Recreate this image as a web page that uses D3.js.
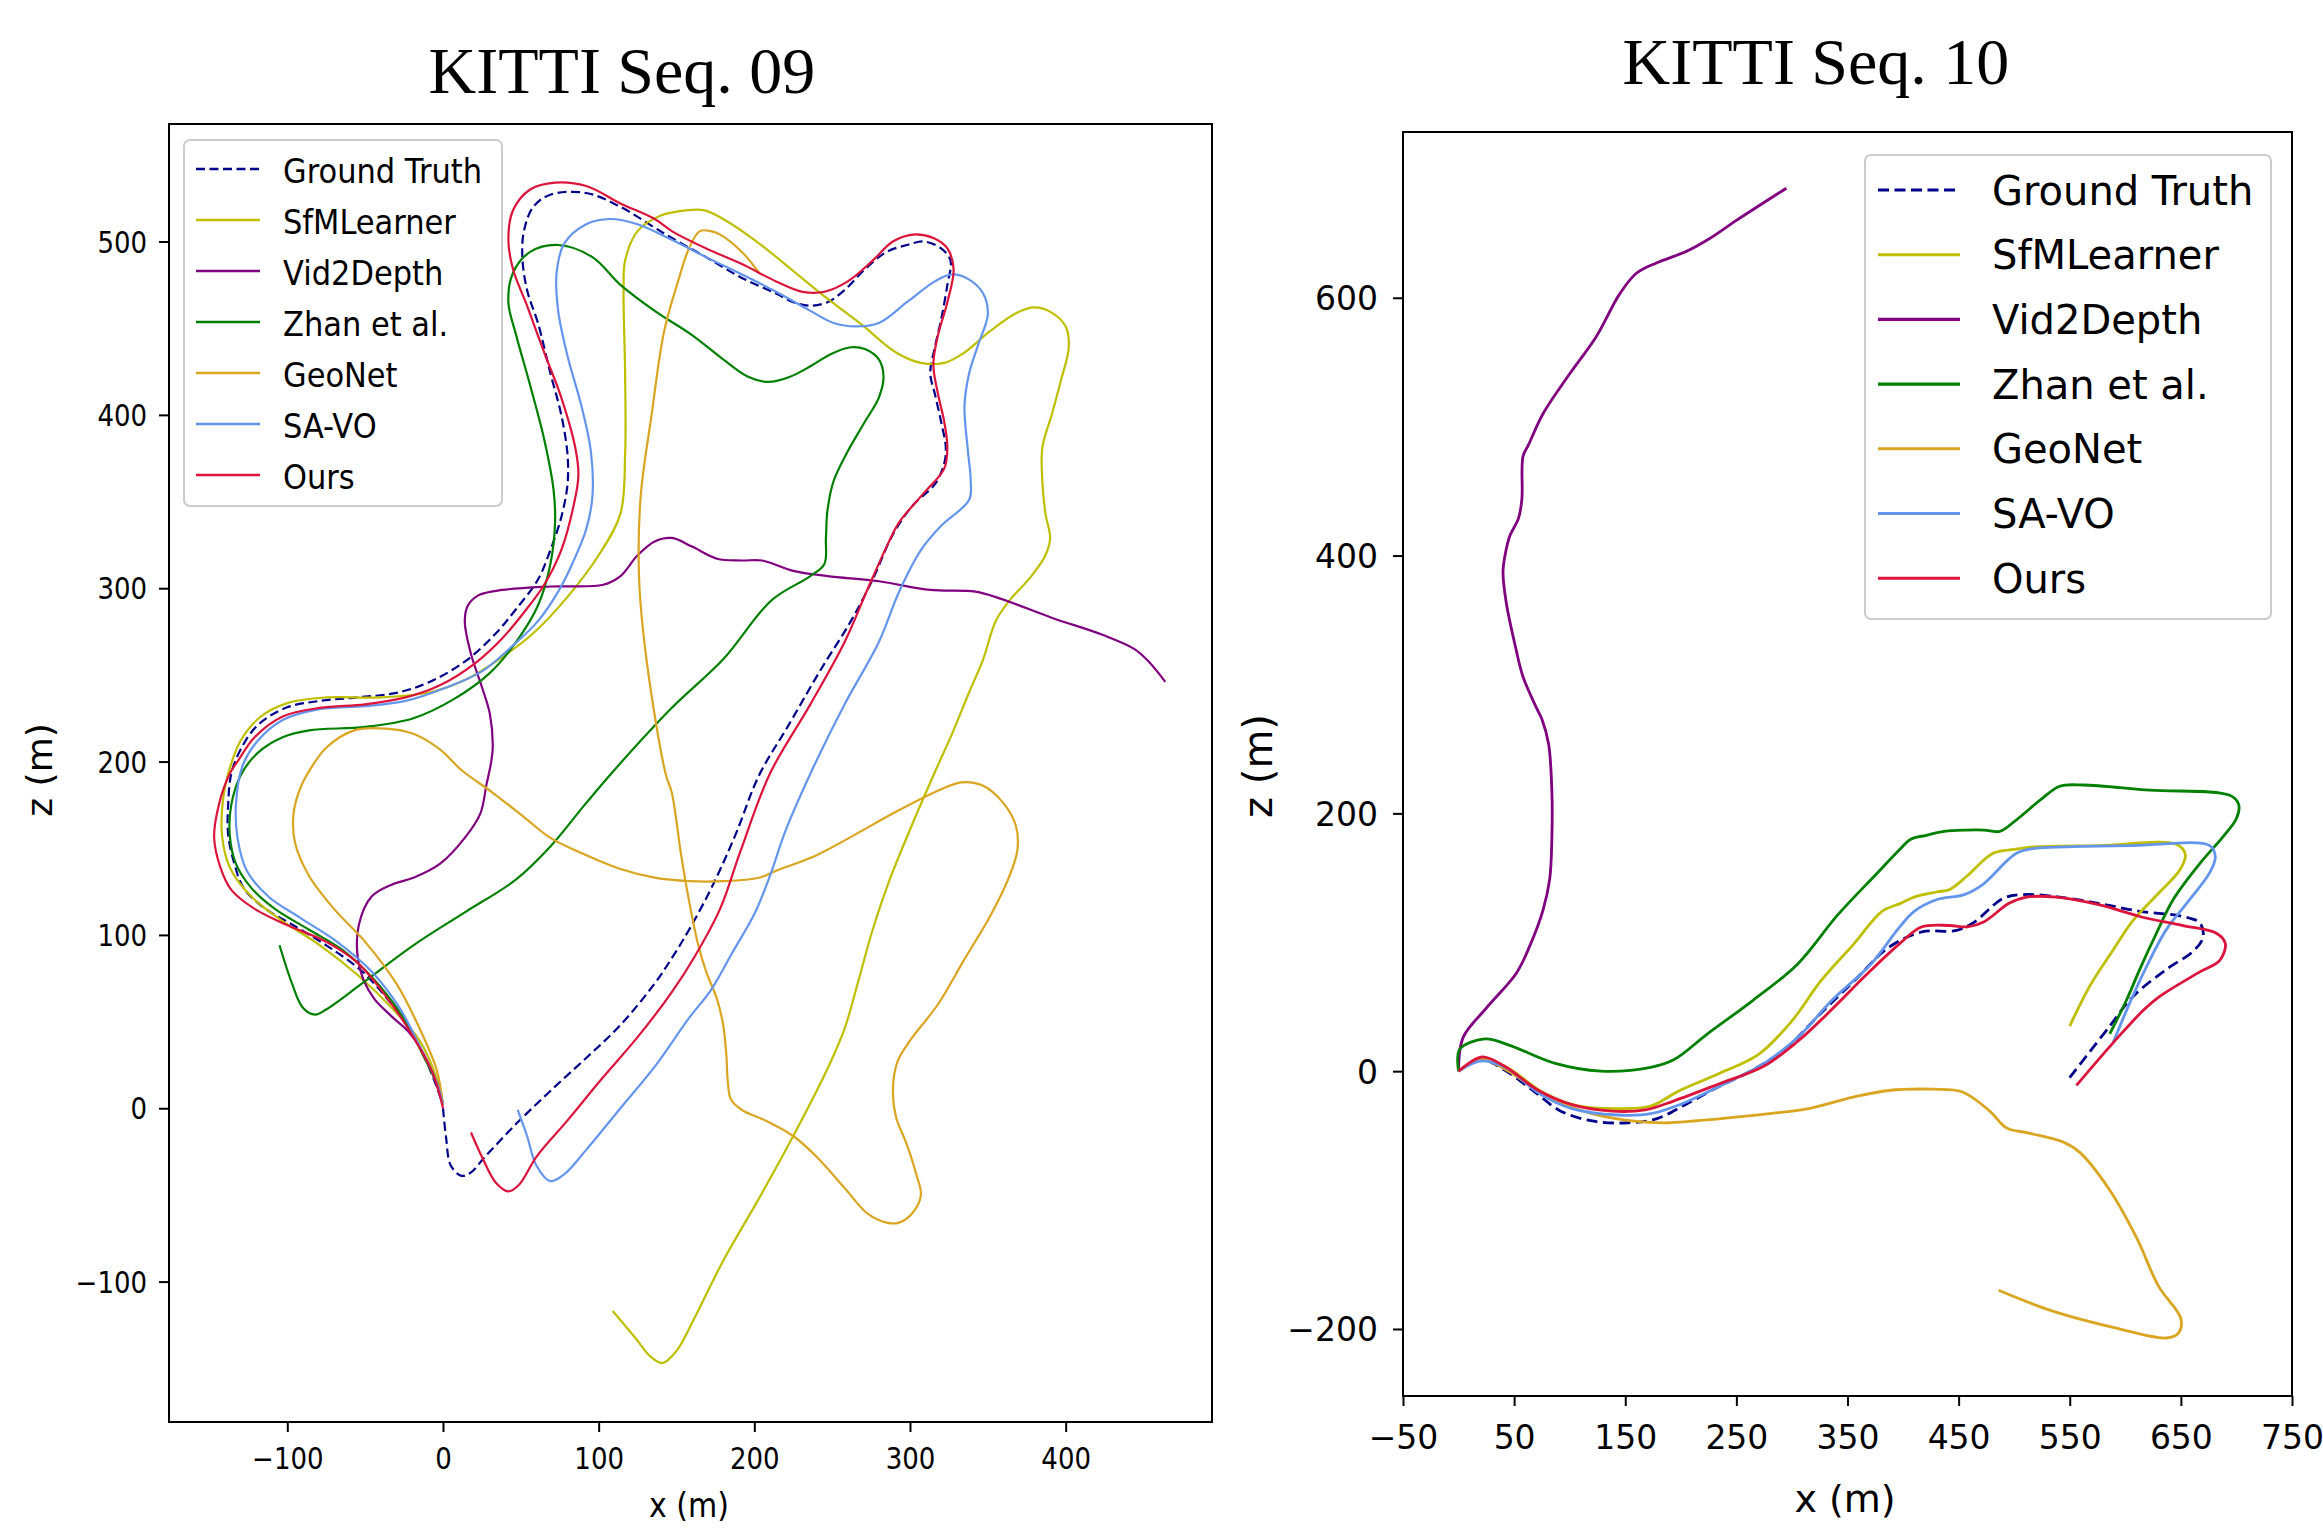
<!DOCTYPE html>
<html>
<head>
<meta charset="utf-8">
<script src="https://cdn.jsdelivr.net/npm/d3@7"></script>
<style>
  body { margin: 0; background: #fff; }
  svg text { font-family: "DejaVu Sans", sans-serif; fill: #000; }
</style>
</head>
<body>
<svg id="fig" width="2323" height="1535"></svg>
<script>
// legend order = drawing order
const methods = ["Ground Truth", "SfMLearner", "Vid2Depth", "Zhan et al.", "GeoNet", "SA-VO", "Ours"];
const colors  = ["#00008b", "#bfbf00", "#800080", "#008000", "#daa520", "#6495ed", "#dc143c"];

// ---- KITTI Seq. 09 trajectories, [x (m), z (m)] ----
const seq09_gt = [[0,0],[2,-17],[5,-33],[12,-39],[18,-37],[27,-28],[47,-9],[69,10],[92,29],[114,48],[136,72],[148,88],[160,106],[174,130],[188,158],[203,192],[222,221],[242,252],[262,281],[276,305],[289,331],[302,348],[316,360],[322,372],[323,381],[320,396],[316,412],[313,424],[316,439],[320,455],[324,475],[326,489],[320,496],[309,500],[298,498],[285,494],[271,484],[258,472],[247,465],[236,463],[225,465],[214,470],[192,479],[169,491],[147,502],[136,508],[114,520],[92,528],[69,527],[58,520],[52,506],[51,491],[54,472],[61,453],[69,424],[76,400],[80,377],[80,360],[76,341],[69,322],[61,305],[47,288],[34,274],[16,259],[-6,247],[-28,240],[-55,237],[-79,235],[-101,231],[-119,221],[-130,207],[-136,193],[-138,175],[-138,158],[-134,141],[-128,127],[-114,115],[-97,106],[-75,94],[-52,79],[-33,60],[-17,39],[-6,17],[0,2]];
const seq09_sfm = [[0,2],[-4,17],[-15,39],[-33,58],[-55,77],[-79,94],[-103,108],[-123,122],[-137,139],[-142,158],[-141,180],[-138,193],[-130,212],[-117,226],[-99,234],[-75,237],[-41,237],[-8,240],[14,247],[36,259],[58,274],[80,295],[100,319],[114,343],[117,377],[117,424],[116,472],[117,489],[125,506],[140,515],[156,518],[168,518],[180,513],[203,499],[225,483],[247,467],[269,452],[291,436],[307,430],[322,430],[335,436],[351,448],[369,459],[380,462],[391,459],[400,451],[402,439],[397,420],[391,400],[385,381],[385,362],[387,343],[390,329],[387,319],[378,307],[364,293],[355,281],[347,259],[338,240],[327,216],[316,194],[302,165],[287,132],[276,103],[267,74],[258,46],[245,19],[225,-16],[203,-52],[180,-88],[161,-122],[150,-140],[141,-147],[133,-143],[124,-133],[109,-117]];
const seq09_vid = [[0,2],[-10,27],[-21,43],[-33,53],[-44,63],[-51,74],[-55,89],[-54,106],[-46,122],[-33,129],[-19,133],[-2,141],[14,156],[24,170],[28,187],[31,200],[32,209],[30,228],[25,243],[18,262],[14,281],[16,290],[23,296],[38,299],[69,301],[103,302],[114,307],[125,319],[136,327],[147,329],[160,324],[176,317],[192,316],[205,316],[225,310],[247,307],[280,304],[313,299],[342,298],[358,294],[391,283],[424,273],[444,265],[453,258],[464,246]];
const seq09_zhan = [[0,2],[-2,10],[-13,31],[-26,53],[-44,74],[-64,91],[-86,103],[-108,115],[-123,127],[-133,141],[-137,158],[-136,175],[-130,192],[-119,205],[-103,214],[-86,218],[-50,220],[-19,225],[7,236],[30,251],[47,269],[61,290],[69,314],[72,338],[71,357],[65,386],[56,417],[47,446],[42,465],[45,482],[56,494],[74,498],[96,491],[114,475],[136,460],[160,446],[180,432],[196,422],[209,419],[223,422],[236,428],[249,435],[262,439],[271,438],[280,432],[283,422],[280,410],[271,396],[260,379],[251,362],[247,345],[246,329],[245,314],[236,307],[211,293],[180,259],[147,231],[109,194],[91,175],[69,151],[47,132],[14,113],[-19,94],[-52,72],[-75,57],[-82,54],[-90,58],[-97,72],[-105,94]];
const seq09_geonet = [[0,2],[-4,22],[-15,46],[-30,72],[-50,96],[-70,115],[-86,134],[-95,153],[-96,170],[-92,184],[-87,193],[-75,208],[-57,218],[-37,219],[-19,216],[-2,207],[12,195],[32,182],[52,168],[69,156],[92,146],[114,138],[136,133],[158,131],[180,131],[203,133],[214,137],[240,146],[265,158],[291,171],[320,184],[333,188],[347,186],[360,176],[368,163],[369,149],[363,132],[351,110],[335,86],[318,60],[300,39],[292,27],[289,10],[291,-5],[298,-21],[304,-38],[307,-50],[302,-60],[293,-66],[285,-66],[273,-61],[258,-46],[240,-28],[225,-16],[207,-7],[192,-1],[185,5],[183,15],[182,31],[180,48],[176,63],[169,79],[164,94],[158,120],[153,146],[147,182],[143,193],[131,257],[126,305],[127,353],[134,400],[142,448],[151,477],[158,496],[165,506],[172,506],[178,504],[192,494],[203,482]];
const seq09_savo = [[0,2],[-4,15],[-15,36],[-28,58],[-46,79],[-68,96],[-92,110],[-112,122],[-126,137],[-132,156],[-133,175],[-129,197],[-119,212],[-103,224],[-81,230],[-50,232],[-24,235],[3,243],[25,252],[45,267],[61,281],[74,298],[83,314],[92,334],[96,353],[95,379],[89,405],[80,434],[74,460],[73,482],[78,499],[92,510],[107,513],[125,510],[147,501],[169,491],[192,481],[214,471],[236,460],[251,453],[265,451],[280,453],[298,465],[316,477],[327,481],[338,478],[347,470],[350,458],[344,441],[338,424],[335,405],[337,381],[339,362],[338,351],[320,336],[307,322],[293,298],[280,269],[258,233],[236,193],[220,160],[210,134],[200,112],[186,90],[172,68],[158,52],[136,24],[114,0],[92,-24],[78,-38],[69,-42],[60,-33],[54,-16],[48,-1]];
const seq09_ours = [[0,0],[-6,19],[-19,41],[-37,65],[-55,84],[-75,96],[-101,106],[-121,115],[-136,126],[-143,139],[-147,156],[-144,175],[-137,193],[-132,200],[-121,214],[-103,226],[-79,231],[-50,233],[-24,237],[-2,244],[21,257],[38,271],[52,286],[65,302],[76,322],[84,348],[87,365],[85,381],[76,410],[65,436],[54,463],[45,484],[42,501],[45,518],[56,530],[72,534],[92,532],[114,522],[136,513],[147,506],[169,496],[192,487],[214,477],[231,471],[245,471],[260,477],[276,489],[289,500],[302,504],[315,502],[324,496],[328,484],[324,465],[318,446],[315,429],[318,412],[322,396],[324,381],[322,369],[309,355],[293,338],[285,324],[273,300],[258,269],[236,233],[210,193],[191,148],[178,115],[162,88],[147,67],[125,41],[102,17],[80,-7],[60,-28],[49,-44],[42,-48],[34,-43],[25,-28],[18,-14]];

// ---- KITTI Seq. 10 trajectories, [x (m), z (m)] ----
const seq10_gt = [[0,0],[21,9],[41,1],[67,-15],[92,-31],[123,-39],[153,-40],[178,-37],[204,-26],[234,-12],[265,1],[295,18],[326,45],[356,70],[387,96],[417,108],[447,109],[463,115],[490,134],[508,137],[541,135],[577,130],[613,124],[652,120],[667,115],[670,104],[661,93],[637,79],[607,58],[586,35],[549,-6]];
const seq10_sfm = [[0,0],[21,10],[45,2],[77,-17],[107,-27],[143,-29],[173,-27],[199,-15],[234,-2],[270,13],[300,39],[326,70],[356,99],[381,124],[397,130],[410,135],[430,139],[442,141],[457,151],[481,169],[500,172],[517,174],[577,175],[646,176],[654,168],[649,156],[631,139],[607,117],[589,94],[568,66],[550,35]];
const seq10_vid = [[0,0],[4,26],[25,49],[52,76],[64,97],[76,125],[82,149],[84,182],[84,216],[81,254],[75,273],[70,282],[58,306],[51,330],[43,363],[40,387],[42,401],[46,415],[54,429],[57,444],[58,477],[63,486],[76,510],[100,541],[124,570],[145,603],[160,619],[178,627],[205,636],[226,646],[250,660],[295,685]];
const seq10_zhan = [[0,0],[1,17],[24,25],[46,20],[87,6],[128,0],[173,3],[194,9],[224,29],[265,55],[305,83],[341,121],[376,153],[397,172],[407,180],[421,183],[437,186],[457,187],[473,187],[487,186],[502,195],[523,210],[541,221],[562,222],[622,218],[694,214],[702,207],[700,196],[688,182],[667,161],[643,133],[628,107],[613,79],[601,55],[586,29]];
const seq10_geonet = [[0,0],[21,9],[45,0],[80,-20],[120,-33],[160,-39],[189,-40],[234,-37],[280,-33],[315,-29],[356,-20],[387,-15],[427,-14],[453,-16],[478,-31],[493,-44],[513,-48],[544,-55],[559,-63],[585,-91],[610,-129],[630,-167],[650,-192],[648,-203],[637,-207],[590,-199],[534,-186],[486,-170]];
const seq10_savo = [[0,0],[21,8],[44,2],[72,-17],[102,-29],[143,-34],[173,-33],[199,-26],[234,-12],[275,6],[305,26],[336,55],[371,83],[397,112],[410,124],[430,133],[455,137],[472,145],[502,169],[520,173],[547,174],[607,175],[676,175],[681,166],[676,154],[655,130],[637,110],[619,81],[604,53],[589,22]];
const seq10_ours = [[0,0],[21,11],[41,4],[72,-15],[102,-26],[138,-31],[168,-30],[194,-23],[234,-10],[275,4],[305,23],[336,48],[366,74],[397,99],[417,112],[442,113],[458,112],[473,116],[495,130],[511,135],[538,135],[577,129],[613,120],[652,113],[682,107],[690,99],[685,86],[667,77],[631,58],[616,47],[589,22],[556,-11]];

// ---- ticks ----
const seq09_xTicks = [-100, 0, 100, 200, 300, 400];
const seq09_zTicks = [-100, 0, 100, 200, 300, 400, 500];
const seq10_xTicks = [-50, 50, 150, 250, 350, 450, 550, 650, 750];
const seq10_zTicks = [-200, 0, 200, 400, 600];

const svg = d3.select("#fig");

function drawPlot(p) {
  const x = d3.scaleLinear().domain(p.xDomain).range([p.left, p.right]);
  const y = d3.scaleLinear().domain(p.zDomain).range([p.bottom, p.top]);
  const s = p.stretch;

  const clipId = "clip" + p.id;
  svg.append("clipPath").attr("id", clipId)
    .append("rect")
    .attr("x", p.left).attr("y", p.top)
    .attr("width", p.right - p.left).attr("height", p.bottom - p.top);

  const line = d3.line()
    .x(d => x(d[0]))
    .y(d => y(d[1]))
    .curve(d3.curveCatmullRom.alpha(0.5));

  svg.append("g").attr("clip-path", `url(#${clipId})`)
    .selectAll("path")
    .data(p.series)
    .enter().append("path")
    .attr("d", d => line(d))
    .attr("fill", "none")
    .attr("stroke", (d, i) => colors[i])
    .attr("stroke-width", p.lw)
    .attr("stroke-dasharray", (d, i) => i === 0 ? p.dash : null)
    .attr("stroke-linejoin", "round")
    .attr("stroke-linecap", "butt");

  // axes
  const xAxis = svg.append("g")
    .attr("transform", `translate(0,${p.bottom})`)
    .call(d3.axisBottom(x).tickValues(p.xTicks).tickSize(10).tickSizeOuter(0));
  const yAxis = svg.append("g")
    .attr("transform", `translate(${p.left},0)`)
    .call(d3.axisLeft(y).tickValues(p.zTicks).tickSize(10).tickSizeOuter(0));

  [xAxis, yAxis].forEach(a => {
    a.select(".domain").remove();
    a.selectAll(".tick line").attr("stroke", "#000").attr("stroke-width", 2);
    a.selectAll(".tick text")
      .attr("font-family", "DejaVu Sans")
      .attr("font-size", p.tickFont)
      .attr("fill", "#000")
      .attr("dy", 0)
      .attr("transform", `scale(1,${s})`);
  });
  xAxis.selectAll(".tick text").attr("y", p.xLabelOff / s);
  yAxis.selectAll(".tick text").attr("x", -p.yLabelPad).attr("y", p.yLabelOff / s);

  // frame
  svg.append("rect")
    .attr("x", p.left).attr("y", p.top)
    .attr("width", p.right - p.left).attr("height", p.bottom - p.top)
    .attr("fill", "none").attr("stroke", "#000").attr("stroke-width", 2);

  // axis labels
  svg.append("text")
    .attr("text-anchor", "middle")
    .attr("font-size", p.xTitle.size)
    .attr("transform", `translate(${p.xTitle.x},${p.xTitle.y}) scale(1,${s})`)
    .text("x (m)");
  svg.append("text")
    .attr("text-anchor", "middle")
    .attr("font-size", p.zTitle.size)
    .attr("transform", `translate(${p.zTitle.x},${p.zTitle.y}) rotate(-90)`)
    .text("z (m)");

  // title
  svg.append("text")
    .attr("x", p.title.x).attr("y", p.title.y)
    .attr("text-anchor", "middle")
    .style("font-family", "'Liberation Serif', 'Times New Roman', serif")
    .attr("font-size", p.title.size)
    .text(p.title.text);

  // legend
  const L = p.legend;
  const lg = svg.append("g");
  lg.append("rect")
    .attr("x", L.x).attr("y", L.y).attr("width", L.w).attr("height", L.h)
    .attr("rx", 6).attr("ry", 6)
    .attr("fill", "#fff").attr("fill-opacity", 0.85)
    .attr("stroke", "#cccccc").attr("stroke-width", 2);
  methods.forEach((m, i) => {
    const cy = L.y0 + i * L.step;
    lg.append("line")
      .attr("x1", L.lx1).attr("x2", L.lx2).attr("y1", cy).attr("y2", cy)
      .attr("stroke", colors[i]).attr("stroke-width", p.lw + 0.3)
      .attr("stroke-dasharray", i === 0 ? p.dash : null);
    lg.append("text")
      .attr("font-size", L.font)
      .attr("transform", `translate(${L.tx},${cy + L.baseOff}) scale(1,${s})`)
      .text(m);
  });
}

drawPlot({
  id: "09",
  left: 169, right: 1212, top: 124, bottom: 1422,
  xDomain: [-176, 494], zDomain: [-181, 567.8],
  xTicks: seq09_xTicks, zTicks: seq09_zTicks,
  series: [seq09_gt, seq09_sfm, seq09_vid, seq09_zhan, seq09_geonet, seq09_savo, seq09_ours],
  lw: 2.2, dash: "9,4.5", stretch: 1.13,
  tickFont: 26, xLabelOff: 47, yLabelPad: 22, yLabelOff: 10.5,
  xTitle: { x: 689, y: 1517, size: 30 },
  zTitle: { x: 52, y: 770, size: 36 },
  title: { x: 622, y: 93, size: 66, text: "KITTI Seq. 09" },
  legend: { x: 184, y: 140, w: 318, h: 366, y0: 169, step: 51, lx1: 196, lx2: 260, tx: 283, font: 30.5, baseOff: 13.5 }
});

drawPlot({
  id: "10",
  left: 1403, right: 2292, top: 132, bottom: 1396,
  xDomain: [-50, 750], zDomain: [-252, 728.6],
  xTicks: seq10_xTicks, zTicks: seq10_zTicks,
  series: [seq10_gt, seq10_sfm, seq10_vid, seq10_zhan, seq10_geonet, seq10_savo, seq10_ours],
  lw: 2.8, dash: "11,5.5", stretch: 1,
  tickFont: 33, xLabelOff: 53, yLabelPad: 25, yLabelOff: 12,
  xTitle: { x: 1845, y: 1512, size: 38 },
  zTitle: { x: 1272, y: 766, size: 40 },
  title: { x: 1816, y: 84, size: 66, text: "KITTI Seq. 10" },
  legend: { x: 1865, y: 155, w: 406, h: 464, y0: 190, step: 64.7, lx1: 1878, lx2: 1960, tx: 1992, font: 40, baseOff: 14.6 }
});
</script>
</body>
</html>
